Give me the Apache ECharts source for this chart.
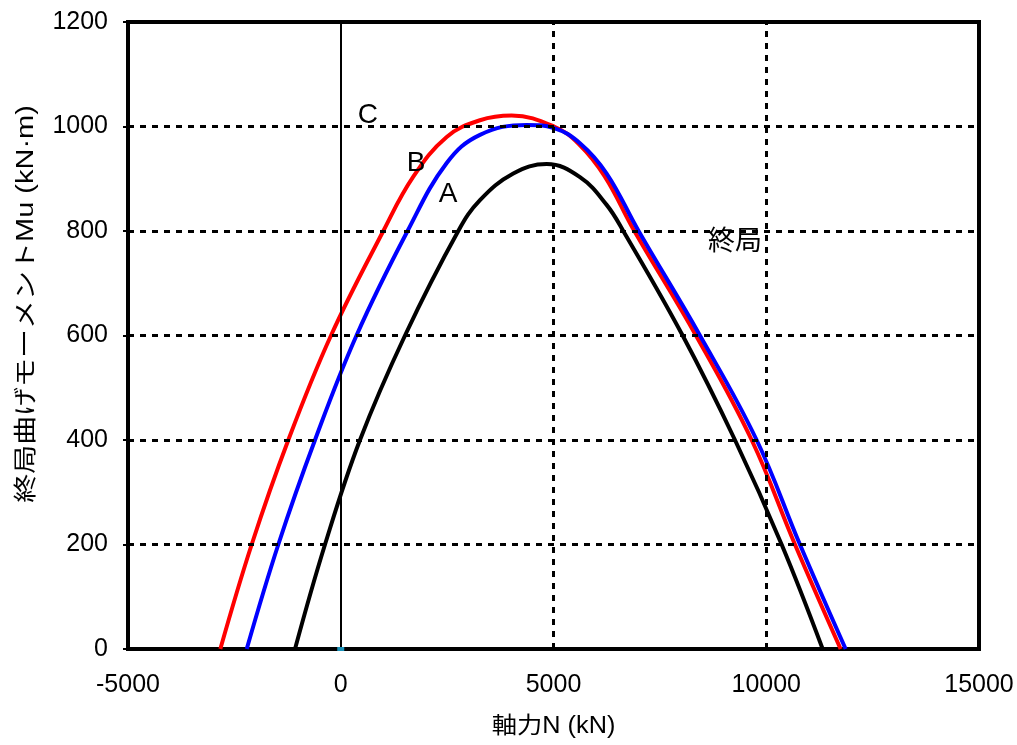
<!DOCTYPE html>
<html>
<head>
<meta charset="utf-8">
<script src="https://cdn.jsdelivr.net/npm/echarts@6/dist/echarts.min.js"></script>
<style>
html,body{margin:0;padding:0;background:#fff;}
#chart{width:1017px;height:745px;}
</style>
</head>
<body>
<div id="chart"></div>
<script>
// Curve A (black)
var aN = [-1075, -370, 452, 1510, 2762, 3272, 4055, 4839, 5622, 6249, 6640, 8035, 9265, 10362, 11326];
var aM = [0, 200, 400, 600, 800, 859, 910, 928, 903, 850, 800, 600, 400, 200, 0];
// Curve B (blue)
var bN = [-2210, -1467, -605, 370, 1570, 2490, 3272, 4370, 5011, 5622, 6249, 7000, 8442, 9774, 10792, 11866];
var bM = [0, 200, 400, 600, 800, 930, 984, 1003, 997, 968, 910, 800, 600, 400, 200, 0];
// Curve C (red)
var cN = [-2830, -2093, -1232, -229, 1000, 1705, 2490, 3272, 4017, 5011, 5600, 6200, 6900, 8348, 9657, 10675, 11748];
var cM = [0, 200, 400, 600, 800, 904, 980, 1012, 1021, 1000, 966, 905, 800, 600, 400, 200, 0];

// Axis ticks
var xTicks = [-5000, 0, 5000, 10000, 15000];
var yTicks = [0, 200, 400, 600, 800, 1000, 1200];
var xDashed = [5000, 10000];
var yDashed = [200, 400, 600, 800, 1000];
var zeroLine = [0];

// Titles
var xTitle = '軸力N (kN)';
var yTitle = '終局曲げモーメントMu (kN·m)';

// Text labels in data coordinates
var labelText = ['C', 'B', 'A', '終局'];
var labelN = [640, 1768, 2520, 9264];
var labelM = [1022, 930, 871, 777];

var originPoint = [[0, 0]];

function zip(xs, ys) { return xs.map(function (x, i) { return [x, ys[i]]; }); }

var FONT = '"Liberation Sans", Arial, "Noto Sans CJK JP", sans-serif';

var chart = echarts.init(document.getElementById('chart'), null, {renderer: 'canvas'});

var gridMarkLines = [];
xDashed.forEach(function (v) { gridMarkLines.push({xAxis: v}); });
yDashed.forEach(function (v) { gridMarkLines.push({yAxis: v}); });

var SMOOTH = 0.4;

var option = {
  animation: false,
  backgroundColor: '#fff',
  textStyle: {fontFamily: FONT},
  grid: {
    left: 128, top: 22, right: 38, bottom: 96,
    show: true, borderColor: '#000', borderWidth: 4, backgroundColor: 'transparent'
  },
  xAxis: {
    type: 'value', min: xTicks[0], max: xTicks[xTicks.length - 1], interval: 5000,
    axisLine: {show: true, onZero: false, lineStyle: {color: '#000', width: 4}},
    axisTick: {show: false},
    axisLabel: {fontSize: 25, color: '#000', margin: 24, fontFamily: FONT,
      formatter: function (v) { return String(v); }},
    splitLine: {show: false}
  },
  yAxis: {
    type: 'value', min: yTicks[0], max: yTicks[yTicks.length - 1], interval: 200,
    axisLine: {show: true, onZero: false, lineStyle: {color: '#000', width: 4}},
    axisTick: {show: true, inside: false, length: 5, lineStyle: {color: '#000', width: 2}},
    axisLabel: {fontSize: 25, color: '#000', margin: 20, fontFamily: FONT,
      formatter: function (v) { return String(v); }},
    splitLine: {show: false}
  },
  series: [
    {
      type: 'line', data: [], silent: true, z: 1,
      markLine: {
        silent: true, symbol: 'none', label: {show: false},
        lineStyle: {color: '#000', type: [6, 6], width: 3},
        data: gridMarkLines
      }
    },
    {
      type: 'line', data: [], silent: true, z: 1,
      markLine: {
        silent: true, symbol: 'none', label: {show: false},
        lineStyle: {color: '#000', type: 'solid', width: 2},
        data: zeroLine.map(function (v) { return {xAxis: v}; })
      }
    },
    {
      name: 'A', type: 'line', data: zip(aN, aM), showSymbol: false, smooth: SMOOTH,
      lineStyle: {color: '#000', width: 4}, z: 3
    },
    {
      name: 'C', type: 'line', data: zip(cN, cM), showSymbol: false, smooth: SMOOTH,
      lineStyle: {color: '#ff0000', width: 4}, z: 3
    },
    {
      name: 'B', type: 'line', data: zip(bN, bM), showSymbol: false, smooth: SMOOTH,
      lineStyle: {color: '#0000ff', width: 4}, z: 4
    },
    {
      type: 'scatter', data: originPoint, symbol: 'rect', symbolSize: [7, 4],
      itemStyle: {color: '#22b8e8'}, z: 10, silent: true
    }
  ]
};
chart.setOption(option);

// Text annotations and axis titles (positions from the library's own scales)
var graphics = [];
labelText.forEach(function (t, i) {
  var p = chart.convertToPixel({gridIndex: 0}, [labelN[i], labelM[i]]);
  graphics.push({
    type: 'text', x: p[0], y: p[1], z: 20, silent: true,
    style: {text: t, font: (t.length > 1 ? '27px ' : '28px ') + FONT, fill: '#000',
      align: 'center', verticalAlign: 'middle'}
  });
});
var gx = chart.convertToPixel({gridIndex: 0}, [5000, 0]);
graphics.push({
  type: 'text', x: gx[0], y: 727, z: 20, silent: true, scaleX: 1.1,
  style: {text: xTitle, font: '23px ' + FONT, fill: '#000', align: 'center', verticalAlign: 'middle'}
});
graphics.push({
  type: 'text', x: 27, y: 304, z: 20, silent: true, rotation: Math.PI / 2, scaleX: 1.26,
  style: {text: yTitle, font: '23px ' + FONT, fill: '#000', align: 'center', verticalAlign: 'middle'}
});
chart.setOption({graphic: graphics});
</script>
</body>
</html>
